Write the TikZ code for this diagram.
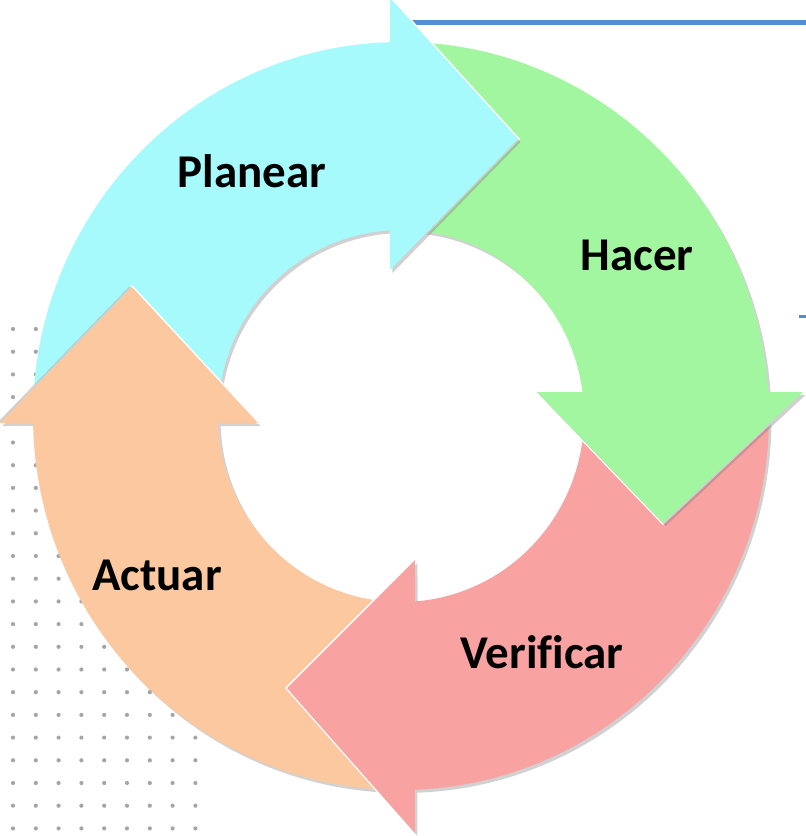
\documentclass[tikz,border=0pt]{standalone}
\usepackage{fontspec}
\setmainfont{Carlito}[Ligatures=CommonOff]
\definecolor{cPlan}{RGB}{166,250,252}
\definecolor{cHac}{RGB}{163,246,160}
\definecolor{cVer}{RGB}{248,162,162}
\definecolor{cAct}{RGB}{252,200,160}
\definecolor{cBlue}{RGB}{84,141,212}
\definecolor{cDot}{RGB}{165,165,165}
\tikzset{
  lbl/.style={inner sep=0pt, anchor=base, text=black, font=\fontsize{47}{50}\selectfont\bfseries},
  shad/.style={fill=black!55, opacity=0.33},
  gapline/.style={draw=white, line width=3pt, line join=miter},
  blueline/.style={draw=cBlue, line cap=butt},
}
\def\pathPlan{(180:368pt and 374pt) arc[start angle=180, end angle=91.71, x radius=368pt, y radius=374pt] -- (-11,418) -- (117,277) -- (-11,146) -- (93.45:183pt and 186pt) arc[start angle=93.45, end angle=180, x radius=183pt, y radius=186pt] -- cycle}
\def\pathHac{(90:368pt and 374pt) arc[start angle=90, end angle=3.68, x radius=368pt, y radius=374pt] -- (402,24) -- (262,-107) -- (136,24) -- (7.41:183pt and 186pt) arc[start angle=7.41, end angle=90, x radius=183pt, y radius=186pt] -- cycle}
\def\pathVer{(360:368pt and 374pt) arc[start angle=360, end angle=272.18, x radius=368pt, y radius=374pt] -- (14,-417) -- (-114,-272) -- (14,-144) -- (274.39:183pt and 186pt) arc[start angle=274.39, end angle=360, x radius=183pt, y radius=186pt] -- cycle}
\def\pathAct{(270:368pt and 374pt) arc[start angle=270, end angle=181.07, x radius=368pt, y radius=374pt] -- (-401,-7) -- (-269,129) -- (-143,-7) -- (182.16:183pt and 186pt) arc[start angle=182.16, end angle=270, x radius=183pt, y radius=186pt] -- cycle}
\begin{document}
\begin{tikzpicture}[x=1pt,y=1pt]
\useasboundingbox (-401,-420) rectangle (405,416);
% dotted grid
\foreach \i in {0,...,8}{
  \foreach \j in {0,...,22}{
    \fill[cDot] ({-388+22.8*\i},{87-22.7*\j}) circle (2.1pt);
  }
}
% blue lines
\coordinate (b1a) at (-11,393.5);
\coordinate (b1b) at (405,393.5);
\coordinate (b2a) at (398,100);
\coordinate (b2b) at (405,100);
\draw[blueline, line width=4.5pt] (b1a) -- (b1b);
\draw[blueline, line width=3pt] (b2a) -- (b2b);
% Actuar
\draw[gapline] (-401,-7) -- (-269,129) -- (-143,-7);
\begin{scope}[shift={(2.5,-3)}]\fill[shad] \pathAct;\end{scope}
\fill[cAct] \pathAct;
% Verificar
\draw[gapline] (14,-417) -- (-114,-272) -- (14,-144);
\begin{scope}[shift={(2.5,-3)}]\fill[shad] \pathVer;\end{scope}
\fill[cVer] \pathVer;
% Hacer
\draw[gapline] (402,24) -- (262,-107) -- (136,24);
\begin{scope}[shift={(2.5,-3)}]\fill[shad] \pathHac;\end{scope}
\fill[cHac] \pathHac;
% Planear
\draw[gapline] (-11,418) -- (117,277) -- (-11,146);
\begin{scope}[shift={(2.5,-3)}]\fill[shad] \pathPlan;\end{scope}
\fill[cPlan] \pathPlan;
% Actuar head over Planear tail
\begin{scope}
  \clip (-420,-7) rectangle (0,200);
  \draw[gapline] (-401,-7) -- (-269,129) -- (-143,-7);
  \begin{scope}[shift={(-2,1)}]\fill[shad] (-401,-7) -- (-269,129) -- (-143,-7) -- cycle;\end{scope}
  \fill[cAct] (-401,-7) -- (-269,129) -- (-143,-7) -- cycle;
\end{scope}
% labels
\node[lbl] (planear) at (-149,228) {Planear};
\node[lbl] (hacer) at (236,146) {Hacer};
\node[lbl] (verificar) at (141,-252) {Verificar};
\node[lbl] (actuar) at (-244,-174) {Actuar};
\end{tikzpicture}
\end{document}
